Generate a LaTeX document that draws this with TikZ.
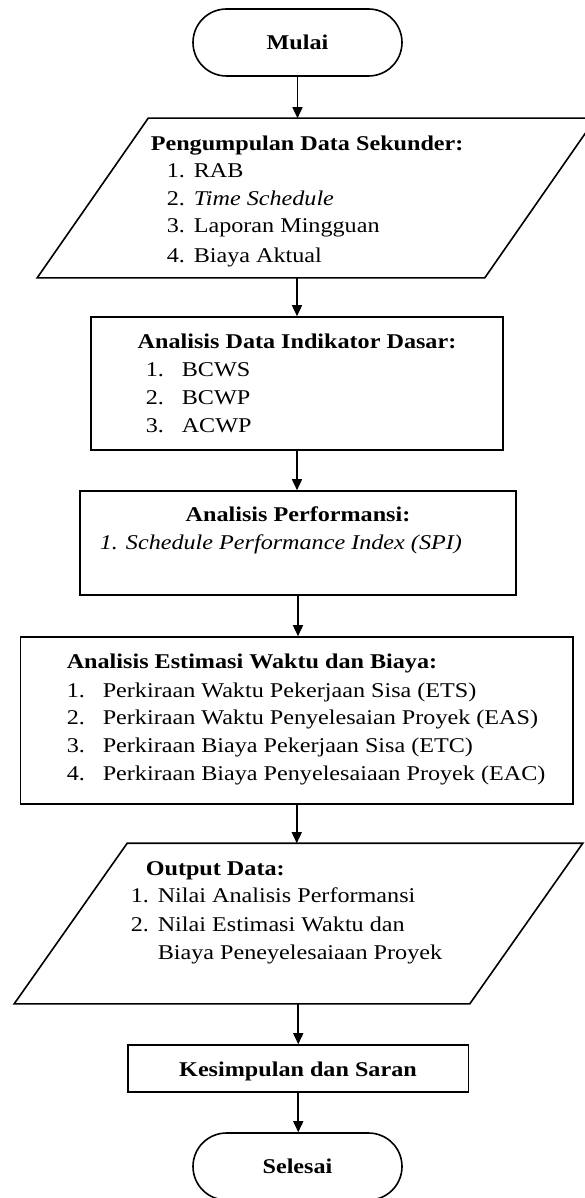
\documentclass[tikz,border=0pt]{standalone}
\usepackage{fontspec}
\setmainfont{Liberation Serif}[FakeStretch=1.15]
\usetikzlibrary{shapes.misc,arrows.meta}
\begin{document}
\begin{tikzpicture}[x=1pt,y=-1pt,
  line width=1.6pt,
  box/.style={draw, rectangle, inner sep=0pt},
  area/.style={rectangle, inner sep=0pt},
  term/.style={draw, rounded rectangle, minimum width=209pt, minimum height=67pt, inner sep=0pt, font=\fontsize{21}{28}\selectfont\bfseries},
  txt/.style={anchor=base west, inner sep=0pt, font=\fontsize{21}{28}\selectfont},
  ttl/.style={anchor=base west, inner sep=0pt, font=\fontsize{21}{28}\selectfont\bfseries},
  ttlc/.style={anchor=base, inner sep=0pt, font=\fontsize{21}{28}\selectfont\bfseries},
  arr/.style={-{Triangle[length=11pt,width=10pt]}, line width=1.6pt}
]
\useasboundingbox (0,0) rectangle (584,1198);

% shapes
\node[term] (mulai) at (297.5,42.5) {Mulai};
\node[area, minimum width=557pt, minimum height=158pt] (p1) at (316.5,198) {};
\draw ([xshift=111pt]p1.north west) -- (p1.north east) -- ([xshift=-111pt]p1.south east) -- (p1.south west) -- cycle;
\node[box, minimum width=412pt, minimum height=133pt] (b2) at (297,383.5) {};
\node[box, minimum width=436pt, minimum height=104pt] (b3) at (298,543) {};
\node[box, minimum width=552.5pt, minimum height=167pt] (b4) at (296.75,720.5) {};
\node[area, minimum width=567pt, minimum height=159pt] (p2) at (298.5,923.5) {};
\draw ([xshift=113pt]p2.north west) -- (p2.north east) -- ([xshift=-113pt]p2.south east) -- (p2.south west) -- cycle;
\node[box, minimum width=340.5pt, minimum height=47pt] (k) at (298.25,1068.5) {};
\node[term] (sel) at (297.5,1166.5) {Selesai};

% texts
\node[ttl] (t1) at (150,151) {Pengumpulan Data Sekunder:};
\node[txt] (t1a) at (166,178) {\makebox[27pt][l]{1.}RAB};
\node[txt] (t1b) at (166,206) {\makebox[27pt][l]{2.}\textit{Time Schedule}};
\node[txt] (t1c) at (166,233) {\makebox[27pt][l]{3.}Laporan Mingguan};
\node[txt] (t1d) at (166,262) {\makebox[27pt][l]{4.}Biaya Aktual};

\node[ttlc] (t2) at (297,348) {Analisis Data Indikator Dasar:};
\node[txt] (t2a) at (145,376) {\makebox[36pt][l]{1.}BCWS};
\node[txt] (t2b) at (145,404) {\makebox[36pt][l]{2.}BCWP};
\node[txt] (t2c) at (145,432) {\makebox[36pt][l]{3.}ACWP};

\node[ttlc] (t3) at (298,521) {Analisis Performansi:};
\node[txt] (t3a) at (99,549) {\textit{1. Schedule Performance Index (SPI)}};

\node[ttl] (t4) at (66,668) {Analisis Estimasi Waktu dan Biaya:};
\node[txt] (t4a) at (66,697) {\makebox[36pt][l]{1.}Perkiraan Waktu Pekerjaan Sisa (ETS)};
\node[txt] (t4b) at (66,724) {\makebox[36pt][l]{2.}Perkiraan Waktu Penyelesaian Proyek (EAS)};
\node[txt] (t4c) at (66,752) {\makebox[36pt][l]{3.}Perkiraan Biaya Pekerjaan Sisa (ETC)};
\node[txt] (t4d) at (66,780) {\makebox[36pt][l]{4.}Perkiraan Biaya Penyelesaiaan Proyek (EAC)};

\node[ttl] (t5) at (145,875) {Output Data:};
\node[txt] (t5a) at (130,902) {\makebox[27pt][l]{1.}Nilai Analisis Performansi};
\node[txt] (t5b) at (130,931) {\makebox[27pt][l]{2.}Nilai Estimasi Waktu dan};
\node[txt] (t5c) at (130,959) {\hspace*{27pt}Biaya Peneyelesaiaan Proyek};

\node[ttlc] (t6) at (298,1076) {Kesimpulan dan Saran};

% connectors
\draw[arr] (mulai.south) -- (mulai.south |- p1.north);
\draw[arr] (b2.north |- p1.south) -- (b2.north);
\draw[arr] (b2.south) -- (b2.south |- b3.north);
\draw[arr] (b3.south) -- (b3.south |- b4.north);
\draw[arr] (b4.south) -- (b4.south |- p2.north);
\draw[arr] (k.north |- p2.south) -- (k.north);
\draw[arr] (k.south) -- (k.south |- sel.north);
\end{tikzpicture}
\end{document}
